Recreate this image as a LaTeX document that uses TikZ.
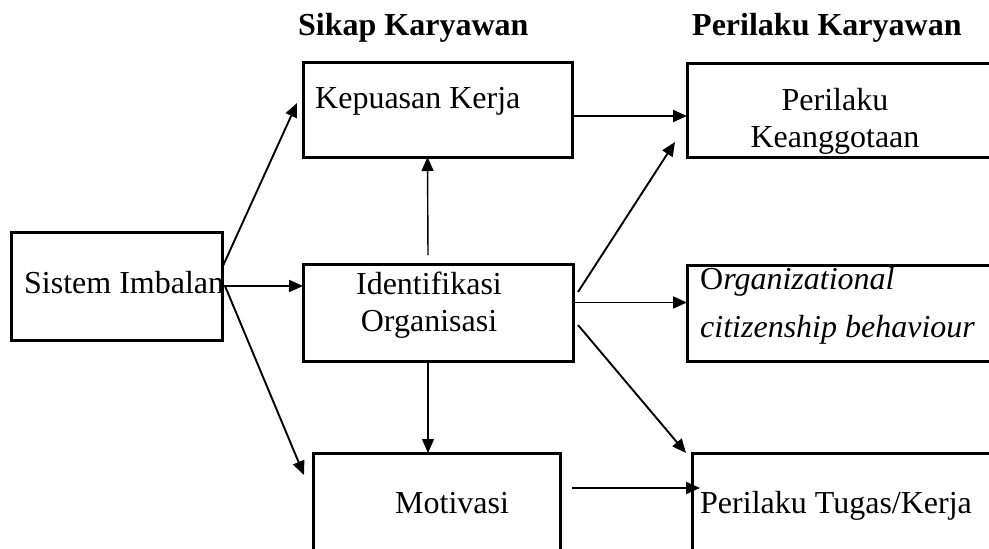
\documentclass[tikz,border=0pt]{standalone}
\usepackage{fontspec}
\setmainfont{Liberation Serif}
\usetikzlibrary{arrows.meta}

\begin{document}
\begin{tikzpicture}[x=1pt, y=-1pt,
  box/.style={draw, line width=3pt, anchor=north west, inner sep=0pt, outer sep=0pt},
  txt/.style={inner sep=0pt, font=\fontsize{32}{37}\selectfont},
  head/.style={txt, font=\fontsize{32}{37}\selectfont\bfseries, anchor=base west},
  link/.style={line width=1.9pt, -{Triangle[length=14pt,width=12pt]}}
]
\useasboundingbox (0,0) rectangle (989,549);

% headings
\node[head] (sikap)    at (298,35) {Sikap Karyawan};
\node[head] (perilaku) at (692,35) {Perilaku Karyawan};

% boxes
\node[box, minimum width=211pt, minimum height=108pt] (imbalan)      at (11,232)  {};
\node[box, minimum width=269pt, minimum height=95pt]  (kepuasan)     at (303,62)  {};
\node[box, minimum width=270pt, minimum height=97pt]  (identifikasi) at (303,264) {};
\node[box, minimum width=247pt, minimum height=110pt] (motivasi)     at (313,453) {};
\node[box, minimum width=310pt, minimum height=94pt]  (keanggotaan)  at (687,63)  {};
\node[box, minimum width=310pt, minimum height=96pt]  (ocb)          at (687,265) {};
\node[box, minimum width=305pt, minimum height=110pt] (tugas)        at (692,453) {};

% texts
\node[txt, anchor=base west] (imbalanText)  at (24,293)  {Sistem Imbalan};
\node[txt, anchor=base west] (kepuasanText) at (315,108) {Kepuasan Kerja};
\node[txt, anchor=north, align=center] (identifikasiText) at (429,272)
  {Identifikasi\\Organisasi};
\node[txt, anchor=base west] (motivasiText) at (395,513) {Motivasi};
\node[txt, anchor=north, align=center] (keanggotaanText) at (835,88)
  {Perilaku\\Keanggotaan};
\node[txt, anchor=north west, align=left,
  font=\fontsize{32}{48}\selectfont] (ocbText) at (700,267)
  {O\textit{rganizational}\\\textit{citizenship behaviour}};
\node[txt, anchor=base west] (tugasText) at (700,513) {Perilaku Tugas/Kerja};

% connectors
\draw[link] ([yshift=18pt]imbalan.east) -- ([xshift=-6pt,yshift=6.5pt]kepuasan.west);
\draw[link] (imbalan.east) -- (imbalan.east -| identifikasi.west);
\draw[link] ([xshift=3pt]imbalan.east) -- ([xshift=-9pt,yshift=-22pt]motivasi.north west);
\draw[link, line width=1.4pt] ([xshift=-10pt,yshift=9pt]identifikasi.north) -- ([xshift=-10pt]kepuasan.south);
\draw[link, line width=1.4pt] ([xshift=-10pt]identifikasi.south) -- ([xshift=-10pt]identifikasi.south |- motivasi.north);
\draw[link] ([yshift=-6.5pt]kepuasan.east) -- ([yshift=-6.5pt]kepuasan.east -| keanggotaan.west);
\draw[link] ([xshift=5pt,yshift=20.5pt]identifikasi.east) -- ([xshift=-12pt,yshift=15pt]keanggotaan.south west);
\draw[link] ([yshift=10pt]identifikasi.east) -- ([yshift=10pt]identifikasi.east -| ocb.west);
\draw[link] ([xshift=5pt,yshift=-12.5pt]identifikasi.east) -- ([xshift=-6pt]tugas.north west);
\draw[link, shorten >=4pt] ([xshift=12pt,yshift=20pt]motivasi.east) -- ([xshift=12pt,yshift=20pt]motivasi.east -| tugas.west);
\end{tikzpicture}
\end{document}
